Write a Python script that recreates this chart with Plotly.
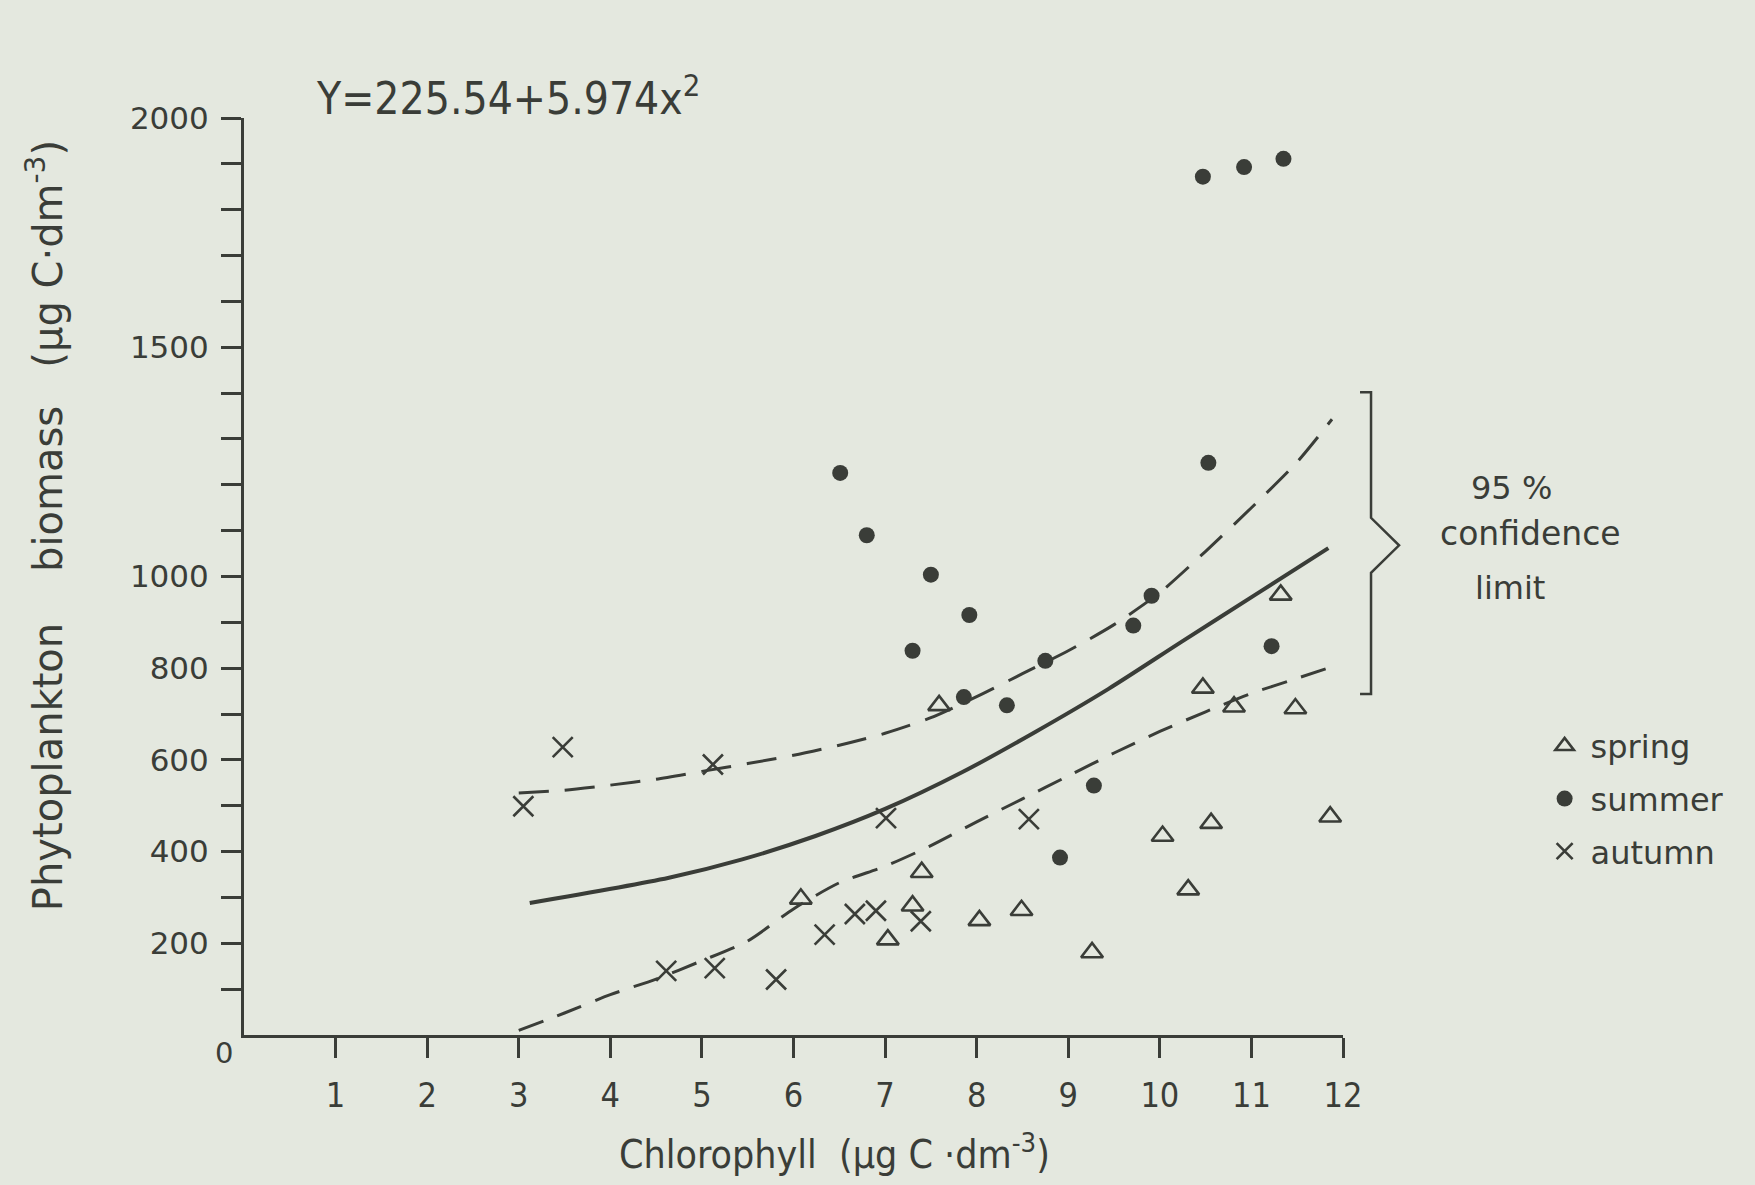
import plotly.graph_objects as go

# ---- data ----
spring_x = [6.08, 7.40, 7.30, 7.03, 8.03, 8.49, 9.26, 10.03, 10.31, 10.56, 11.86, 7.59, 10.47, 10.81, 11.48, 11.32]
spring_y = [297, 355, 282, 208, 250, 272, 180, 434, 317, 462, 476, 719, 757, 716, 712, 960]

summer_x = [10.47, 10.92, 11.35, 6.51, 6.80, 10.53, 7.50, 7.92, 7.30, 7.86, 8.33, 8.75, 9.71, 9.91, 11.22, 9.28, 8.91]
summer_y = [1872, 1893, 1911, 1226, 1090, 1248, 1004, 916, 838, 737, 719, 816, 893, 958, 848, 544, 387]

autumn_x = [3.05, 3.48, 5.12, 7.01, 8.57, 4.61, 5.14, 5.81, 6.34, 6.67, 6.90, 7.39]
autumn_y = [499, 628, 590, 473, 471, 140, 146, 121, 219, 264, 271, 248]

fit_x = [3.12, 4.64, 5.44, 6.24, 7.00, 7.84, 8.64, 9.44, 10.24, 11.04, 11.84]
fit_y = [288, 343, 383, 434, 493, 573, 661, 755, 858, 960, 1062]

upper_x = [3.0, 3.5, 4.0, 4.5, 5.0, 5.5, 6.0, 6.5, 7.0, 7.5, 8.0, 8.5, 9.0, 9.5, 10.0, 10.5, 11.0, 11.5, 11.88]
upper_y = [528, 534, 545, 558, 575, 592, 610, 632, 658, 692, 738, 788, 838, 895, 965, 1055, 1150, 1250, 1343]

lower_x = [3.0, 3.5, 4.0, 4.5, 5.0, 5.5, 6.0, 6.5, 7.0, 7.5, 8.0, 8.5, 9.0, 9.5, 10.0, 10.5, 11.0, 11.5, 11.88]
lower_y = [10, 48, 88, 122, 162, 205, 275, 332, 368, 413, 465, 515, 565, 615, 662, 705, 745, 778, 803]

x_ticks = list(range(1, 13))
y_major = [200, 400, 600, 800, 1000, 1500, 2000]
y_minor = [v for v in range(100, 2001, 100) if v not in y_major]

INK = "#3a3d38"
BG = "#e4e8df"
ROUND = "DejaVu Sans, Noto Sans, sans-serif"
COND = "DejaVu Sans Condensed, Liberation Sans Narrow, Roboto, sans-serif"

fig = go.Figure()

fig.add_trace(go.Scatter(x=upper_x, y=upper_y, mode="lines", showlegend=False, hoverinfo="skip",
                         line=dict(color=INK, width=3, dash="30px,16px", shape="spline", smoothing=0.7)))
fig.add_trace(go.Scatter(x=lower_x, y=lower_y, mode="lines", showlegend=False, hoverinfo="skip",
                         line=dict(color=INK, width=3, dash="26px,15px", shape="spline", smoothing=0.7)))
fig.add_trace(go.Scatter(x=fit_x, y=fit_y, mode="lines", showlegend=False, hoverinfo="skip",
                         line=dict(color=INK, width=4, shape="spline", smoothing=0.8)))

fig.add_trace(go.Scatter(x=spring_x, y=spring_y, mode="markers", name="spring", legendgroup="a",
                         marker=dict(symbol="triangle-up-open", size=19, color=INK,
                                     line=dict(width=2.6, color=INK))))
fig.add_trace(go.Scatter(x=summer_x, y=summer_y, mode="markers", name="summer", legendgroup="b",
                         marker=dict(symbol="circle", size=16, color=INK, line=dict(width=0))))
fig.add_trace(go.Scatter(x=autumn_x, y=autumn_y, mode="markers", name="autumn", legendgroup="c",
                         marker=dict(symbol="x-thin-open", size=20, color=INK,
                                     line=dict(width=2.6, color=INK))))

fig.update_xaxes(range=[0, 12], showline=True, linecolor=INK, linewidth=3, showgrid=False, zeroline=False,
                 tickmode="array", tickvals=x_ticks, ticktext=[str(v) for v in x_ticks],
                 ticks="outside", ticklen=20, tickwidth=2.5, tickcolor=INK, ticklabelstandoff=8,
                 tickfont=dict(family=COND, size=34, color=INK))
fig.update_yaxes(range=[0, 2000], showline=True, linecolor=INK, linewidth=3, showgrid=False, zeroline=False,
                 tickmode="array", tickvals=y_major, ticktext=[str(v) for v in y_major],
                 ticks="outside", ticklen=20, tickwidth=2.5, tickcolor=INK, ticklabelstandoff=6,
                 tickfont=dict(family=ROUND, size=31, color=INK),
                 minor=dict(tickmode="array", tickvals=y_minor, ticks="outside", ticklen=20,
                            tickwidth=2.5, tickcolor=INK, showgrid=False))

ann = []
ann.append(dict(text="0", x=-0.018, y=-0.02, xref="paper", yref="paper", showarrow=False,
                font=dict(family=ROUND, size=29, color=INK), xanchor="center", yanchor="middle"))
ann.append(dict(text="Phytoplankton    biomass   (µg C·dm<sup>-3</sup>)", x=-0.181, y=0.555, xref="paper",
                yref="paper", showarrow=False, textangle=-90,
                font=dict(family=ROUND, size=40, color=INK), xanchor="center", yanchor="middle"))
ann.append(dict(text="Chlorophyll  (µg C ·dm<sup>-3</sup>)", x=0.537, y=-0.128, xref="paper", yref="paper",
                showarrow=False, font=dict(family=COND, size=39, color=INK), xanchor="center", yanchor="middle"))
ann.append(dict(text="Y=225.54+5.974x<sup>2</sup>", x=0.064, y=1.024, xref="paper", yref="paper",
                showarrow=False, font=dict(family=COND, size=44, color=INK), xanchor="left", yanchor="middle"))
ann.append(dict(text="95 %", x=1.153, y=0.596, xref="paper", yref="paper", showarrow=False,
                font=dict(family=ROUND, size=32, color=INK), xanchor="center", yanchor="middle"))
ann.append(dict(text="confidence", x=1.171, y=0.547, xref="paper", yref="paper", showarrow=False,
                font=dict(family=ROUND, size=33, color=INK), xanchor="center", yanchor="middle"))
ann.append(dict(text="limit", x=1.152, y=0.487, xref="paper", yref="paper", showarrow=False,
                font=dict(family=ROUND, size=32, color=INK), xanchor="center", yanchor="middle"))

# curly brace for the confidence-limit label (paper coordinates)
bx0, bx1, bxp = 1.0155, 1.0255, 1.051
by_top, by_bot, by_mid = 0.701, 0.372, 0.534
brace = (f"M {bx0},{by_top} L {bx1},{by_top} L {bx1},{by_mid + 0.03} "
         f"L {bxp},{by_mid} L {bx1},{by_mid - 0.03} L {bx1},{by_bot} L {bx0},{by_bot}")
shapes = [dict(type="path", path=brace, xref="paper", yref="paper",
               line=dict(color=INK, width=2.5))]

fig.update_layout(
    width=1755, height=1185,
    margin=dict(l=244, r=412, t=118, b=150),
    paper_bgcolor=BG, plot_bgcolor=BG,
    annotations=ann, shapes=shapes,
    showlegend=True,
    legend=dict(x=1.178, y=0.345, xanchor="left", yanchor="top", bgcolor="rgba(0,0,0,0)",
                font=dict(family=ROUND, size=32, color=INK), traceorder="grouped",
                tracegroupgap=8, itemwidth=42),
)

fig.write_html("out.html", config={"displayModeBar": False},
               post_script="document.body.style.margin='0';document.body.style.background='#e4e8df';")
